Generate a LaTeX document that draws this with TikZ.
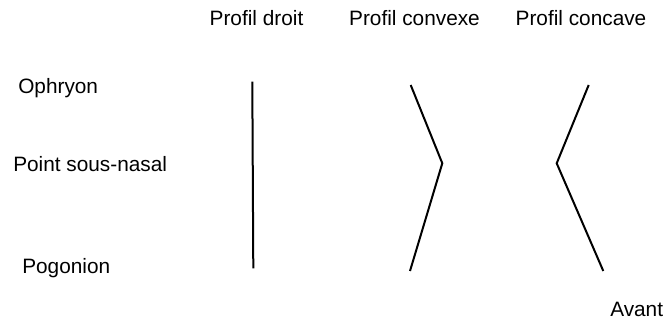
\documentclass[tikz,border=0pt]{standalone}
\usepackage{fontspec}
\setmainfont{Liberation Sans}
\begin{document}
\begin{tikzpicture}[x=0.75pt,y=-0.75pt,
  lbl/.style={inner sep=0pt,font=\fontsize{15.6pt}{18pt}\selectfont},
  prof/.style={line width=1.5pt,line join=miter}]
\useasboundingbox (0,0) rectangle (665,323);
% titles
\node[lbl,anchor=base] (t1) at (256.5,26) {Profil droit};
\node[lbl,anchor=base] (t2) at (414.5,26) {Profil convexe};
\node[lbl,anchor=base] (t3) at (581,26) {Profil concave};
% landmarks
\node[lbl,anchor=base west] (oph) at (18,94) {Ophryon};
\node[lbl,anchor=base west] (psn) at (13,171.7) {Point sous-nasal};
\node[lbl,anchor=base west] (pog) at (22,273.3) {Pogonion};
\node[lbl,anchor=base west] (av) at (610,316.7) {Avant};
% profiles
\coordinate (d1) at (252.3,81.7);
\coordinate (d2) at (253.3,268.3);
\draw[prof] (d1) -- (d2);
\coordinate (v1) at (410.7,85);
\coordinate (v2) at (442.3,163.3);
\coordinate (v3) at (410,271);
\draw[prof] (v1) -- (v2) -- (v3);
\coordinate (c1) at (588.7,85);
\coordinate (c2) at (556.7,163.3);
\coordinate (c3) at (603.3,271);
\draw[prof] (c1) -- (c2) -- (c3);
\end{tikzpicture}
\end{document}
